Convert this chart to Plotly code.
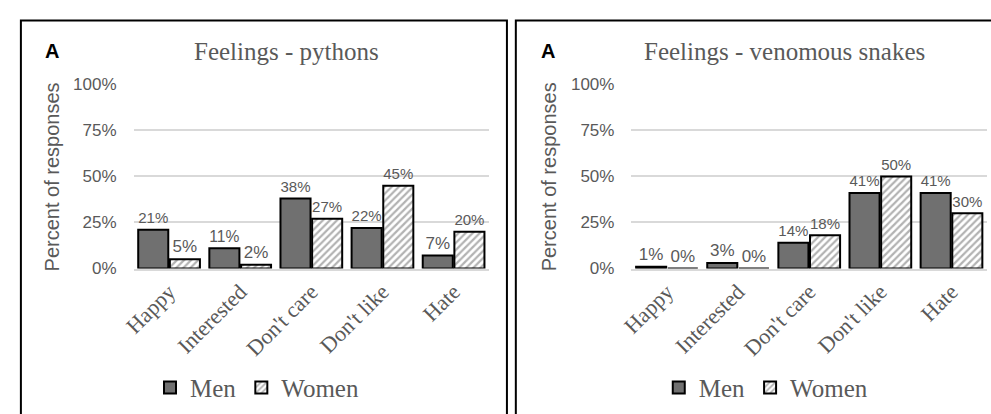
import plotly.graph_objects as go

categories = ["Happy", "Interested", "Don't care", "Don't like", "Hate"]
pythons_men = [21, 11, 38, 22, 7]
pythons_women = [5, 2, 27, 45, 20]
venom_men = [1, 3, 14, 41, 41]
venom_women = [0, 0, 18, 50, 30]
panel_titles = ["Feelings - pythons", "Feelings - venomous snakes"]
y_ticks = [0, 25, 50, 75, 100]
y_tick_labels = ["0%", "25%", "50%", "75%", "100%"]

W, H = 991, 414
def px(x):
    return x / W
def py(y):
    return 1 - y / H

GRAY_TXT = "#595959"
MEN_COLOR = "#707070"
SANS = "Liberation Sans"
SERIF = "Liberation Serif"

fig = go.Figure()

panels = [
    dict(men=pythons_men, women=pythons_women, xa="x", ya="y", legend="legend"),
    dict(men=venom_men, women=venom_women, xa="x2", ya="y2", legend="legend2"),
]

for p in panels:
    fig.add_trace(go.Bar(
        x=categories, y=p["men"], name="Men",
        xaxis=p["xa"], yaxis=p["ya"], legend=p["legend"],
        marker=dict(color=MEN_COLOR, line=dict(color="black", width=2)),
        text=[f"{v}%" for v in p["men"]], textposition="outside",
        textfont=dict(family=SANS, size=17, color=GRAY_TXT),
        cliponaxis=False,
    ))
    fig.add_trace(go.Bar(
        x=categories, y=p["women"], name="Women",
        xaxis=p["xa"], yaxis=p["ya"], legend=p["legend"],
        marker=dict(color="white", line=dict(color="black", width=2),
                    pattern=dict(shape="/", fgcolor="#666666", bgcolor="white",
                                 size=5, solidity=0.45)),
        text=[f"{v}%" for v in p["women"]], textposition="outside",
        textfont=dict(family=SANS, size=17, color=GRAY_TXT),
        cliponaxis=False,
    ))

ydom = [py(272), py(79)]
xaxis_common = dict(
    showgrid=False, showline=True, linecolor="#d9d9d9", linewidth=1.5,
    tickangle=-45, tickfont=dict(family=SERIF, size=22, color=GRAY_TXT),
    ticks="", fixedrange=True,
)
yaxis_common = dict(
    range=[0, 100], tickvals=y_ticks, ticktext=y_tick_labels,
    showgrid=True, gridcolor="#d9d9d9", gridwidth=1.5, zeroline=False,
    showline=False, tickfont=dict(family=SANS, size=17, color=GRAY_TXT),
    ticklabelstandoff=16, domain=ydom, fixedrange=True,
)

legend_common = dict(orientation="h", xanchor="center", y=py(397), yanchor="middle",
                     font=dict(family=SERIF, size=25, color=GRAY_TXT), itemwidth=30,
                     bgcolor="rgba(0,0,0,0)", tracegroupgap=0)

fig.update_layout(
    width=W, height=H,
    margin=dict(l=0, r=0, t=0, b=0),
    paper_bgcolor="white", plot_bgcolor="white",
    barmode="group", bargap=0.11, bargroupgap=0.05,
    xaxis=dict(domain=[px(123), px(483)], anchor="y", **xaxis_common),
    yaxis=dict(anchor="x", **yaxis_common),
    xaxis2=dict(domain=[px(627), px(987)], anchor="y2", **xaxis_common),
    yaxis2=dict(anchor="x2", **yaxis_common),
    legend=dict(x=px(248), **legend_common),
    legend2=dict(x=px(763), **legend_common),
    showlegend=True,
)

# panel borders
fig.add_shape(type="rect", xref="paper", yref="paper",
              x0=px(9), x1=px(501), y0=py(440), y1=py(12),
              line=dict(color="black", width=2), fillcolor="rgba(0,0,0,0)", layer="above")
fig.add_shape(type="rect", xref="paper", yref="paper",
              x0=px(510), x1=px(1020), y0=py(440), y1=py(12),
              line=dict(color="black", width=2), fillcolor="rgba(0,0,0,0)", layer="above")

title_x = [278, 782]
for t, xa in zip(panel_titles, title_x):
    fig.add_annotation(text=t, x=px(xa), y=py(45), xref="paper", yref="paper",
                       xanchor="center", yanchor="middle", showarrow=False,
                       font=dict(family=SERIF, size=25, color=GRAY_TXT))
for xa in [40, 543]:
    fig.add_annotation(text="<b>A</b>", x=px(xa), y=py(44), xref="paper", yref="paper",
                       xanchor="center", yanchor="middle", showarrow=False,
                       font=dict(family=SANS, size=20, color="black"))
for xa in [40, 543]:
    fig.add_annotation(text="Percent of responses", x=px(xa), y=py(176), xref="paper", yref="paper",
                       xanchor="center", yanchor="middle", showarrow=False, textangle=-90,
                       font=dict(family=SANS, size=20, color=GRAY_TXT))

fig.write_html(
    "out.html",
    config={"displayModeBar": False},
    post_script="document.body.style.margin='0';document.body.style.overflow='hidden';",
)
